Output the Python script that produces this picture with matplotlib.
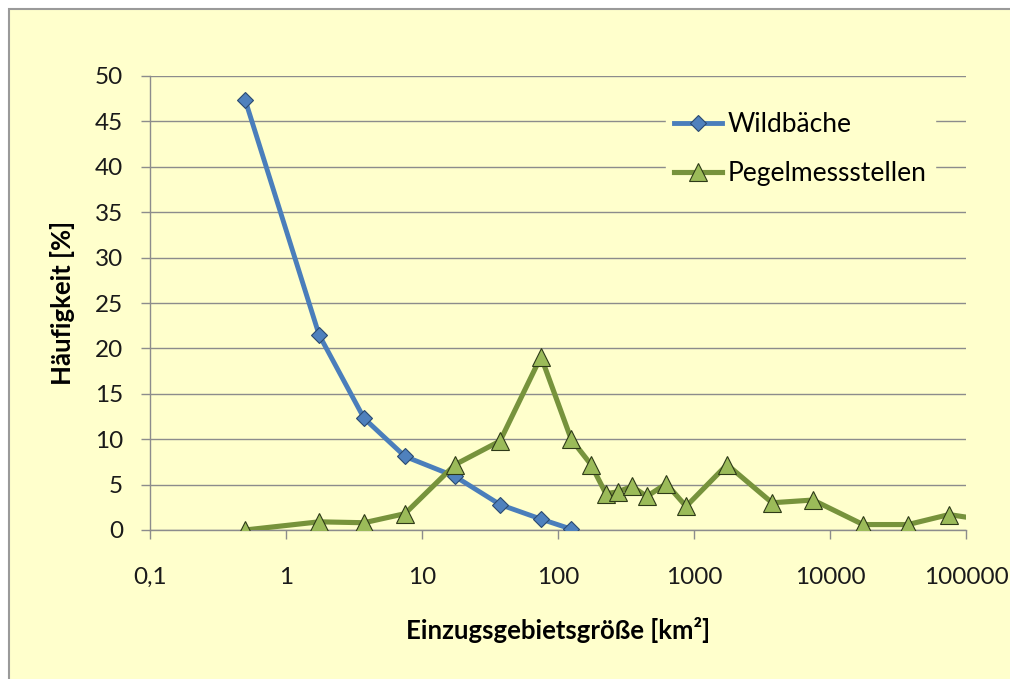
import matplotlib.pyplot as plt
from matplotlib.patches import Rectangle

plt.rcParams['font.family'] = ['Lato', 'DejaVu Sans']

# class midpoints of catchment area [km2]
x_wild = [0.5, 1.75, 3.75, 7.5, 17.5, 37.5, 75, 125]
wildbaeche = [47.4, 21.5, 12.3, 8.1, 5.9, 2.8, 1.2, 0.1]

x_pegel = [0.5, 1.75, 3.75, 7.5, 17.5, 37.5, 75, 125, 175, 225, 275, 350, 450,
           625, 875, 1750, 3750, 7500, 17500, 37500, 75000, 125000]
pegel = [0.0, 0.9, 0.8, 1.8, 7.2, 9.8, 19.1, 10.0, 7.2, 4.0, 4.2, 4.8, 3.7,
         5.1, 2.6, 7.2, 3.0, 3.3, 0.6, 0.6, 1.7, 1.2]

x_ticks = [0.1, 1, 10, 100, 1000, 10000, 100000]
x_ticklabels = ['0,1', '1', '10', '100', '1000', '10000', '100000']
y_ticks = [0, 5, 10, 15, 20, 25, 30, 35, 40, 45, 50]

bg = '#FFFFCC'
grid_c = '#8C8C8C'

fig = plt.figure(figsize=(10.1, 6.79), dpi=100, facecolor='white')
# chart area with border (only left/top edge visible)
fig.add_artist(Rectangle((9 / 1010, -0.05), 1.1, 1.05 - 9 / 679,
                         transform=fig.transFigure, facecolor=bg,
                         edgecolor='#9A9A9A', linewidth=1.5, zorder=-10))

ax = fig.add_axes([150 / 1010, 1 - 530 / 679, 816 / 1010, 454 / 679])
ax.set_facecolor(bg)
ax.set_xscale('log')
ax.set_xlim(0.1, 100000)
ax.set_ylim(0, 50)

ax.plot(x_wild, wildbaeche, color='#4A7EBB', lw=3.5, marker='D', ms=8.5,
        mfc='#4F81BD', mec='#2B4A70', mew=0.8, label='Wildbäche', zorder=3)
ax.plot(x_pegel, pegel, color='#77933C', lw=3.7, marker='^', ms=13,
        mfc='#9BBB59', mec='#2E3A18', mew=0.8, label='Pegelmessstellen', zorder=3)

ax.set_yticks(y_ticks)
ax.set_xticks(x_ticks)
ax.set_xticklabels(x_ticklabels)
ax.xaxis.set_minor_locator(plt.NullLocator())
ax.yaxis.grid(True, color=grid_c, lw=1.0)
ax.set_axisbelow(True)

for s in ['top', 'right']:
    ax.spines[s].set_visible(False)
for s in ['left', 'bottom']:
    ax.spines[s].set_color(grid_c)
    ax.spines[s].set_linewidth(1.0)
ax.tick_params(axis='both', colors=grid_c, length=6.5, width=1.0,
               labelsize=17.5, labelcolor='#1a1a1a')
ax.tick_params(axis='y', pad=13)
ax.tick_params(axis='x', pad=20)

ax.set_xlabel('Einzugsgebietsgröße [km²]', fontsize=18.5, fontweight='bold',
              labelpad=21)
ax.set_ylabel('Häufigkeit [%]', fontsize=18.5, fontweight='bold', labelpad=14)

leg = ax.legend(loc='upper left', bbox_to_anchor=(666 / 1010, 1 - 104 / 679),
                bbox_transform=fig.transFigure, frameon=True, fontsize=19,
                handlelength=1.82, handletextpad=0.23, labelspacing=0.92,
                borderpad=0.3, borderaxespad=0)
leg.get_frame().set_facecolor(bg)
leg.get_frame().set_edgecolor(bg)
leg.get_frame().set_alpha(1)

fig.savefig('out.png', dpi=100, facecolor=fig.get_facecolor())
